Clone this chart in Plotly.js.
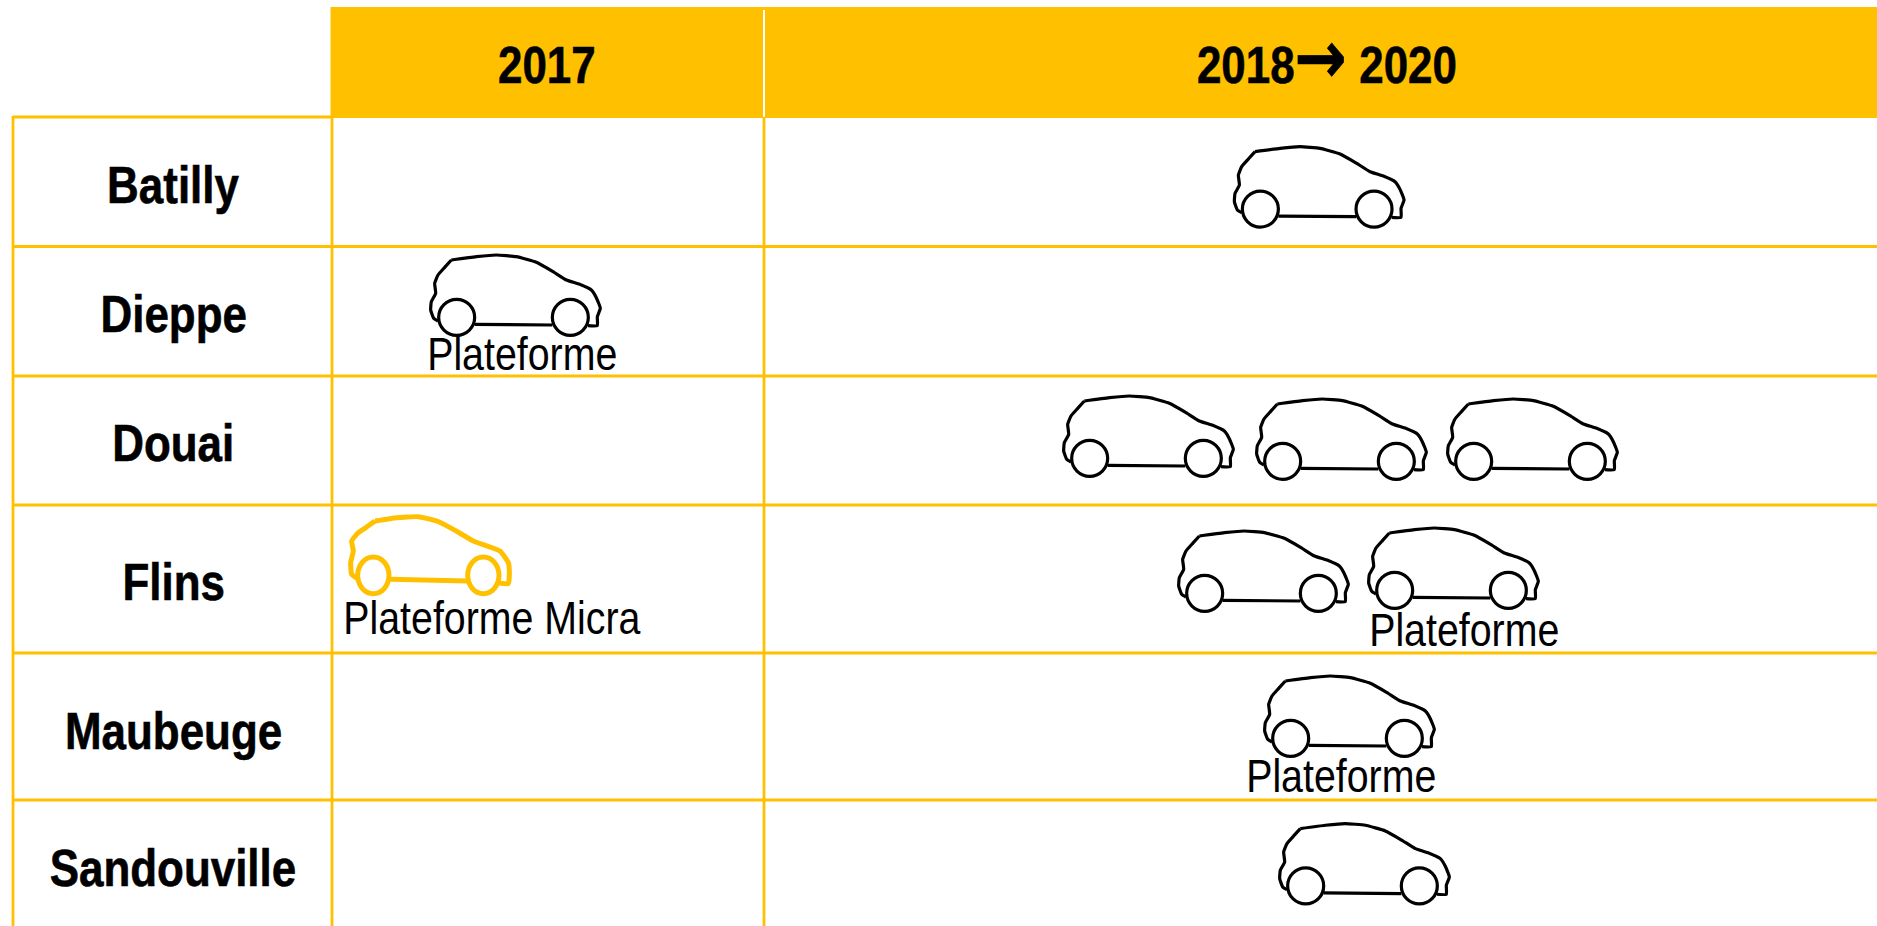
<!DOCTYPE html>
<html><head><meta charset="utf-8">
<script src="https://cdn.plot.ly/plotly-3.0.1.min.js"></script>
<style>html,body{margin:0;padding:0;background:#fff;overflow:hidden}</style>
</head><body><div id="chart" style="width:1877px;height:926px"></div>
<script>
// Table content
const periods = ['2017', '2018<span style="font-family:\'DejaVu Sans\';font-size:74px">\u2192</span> 2020'];
const sites = ['Batilly', 'Dieppe', 'Douai', 'Flins', 'Maubeuge', 'Sandouville'];
const carsIn2017 = [0, 1, 0, 1, 0, 0];
const carsIn2018to2020 = [1, 0, 3, 2, 1, 1];
const captions = [
  {text: 'Plateforme', x: 522, y: 354},
  {text: 'Plateforme Micra', x: 492, y: 618},
  {text: 'Plateforme', x: 1464, y: 630},
  {text: 'Plateforme', x: 1341, y: 776}
];

// Layout (page pixels)
const GOLD = '#FFC000';
const colEdges = [13, 332, 764, 1877];
const rowEdges = [117, 246.5, 376, 505, 653, 800, 926];
const labelY = [185, 314, 443, 582, 731, 868];
const headerY = [65, 57];
const headerTop = 7;
const blackCars = [[1234.7,146.7],[431,255],[1064,396],[1257,399],[1448,399],[1179,531],[1369,528],[1265,676],[1280,823.6]];
const yellowCar = [350,516];

// outline, in 1/3 px relative to the car's crop origin
const blackX = [165,240,300,360,420,470,510,550,585,600,612,603,603,575,null,235,468,null,125,112,103,105,118,115,125,145,165];
const blackY = [65,55,50,55,72,100,125,138,155,178,210,235,262,262,null,258,260,null,248,240,215,190,165,135,110,87,65];
const blackWheels = [[181,237,54,54],[522,237,54,54]];
const yellowX = [135,200,265,320,370,430,510,535,538,535,505,null,180,412,null,85,65,62,70,65,85,110,135];
const yellowY = [90,80,77,90,115,150,180,215,240,278,275,null,265,270,null,265,250,215,180,150,125,108,90];
const yellowWheels = [[130,253,47,55],[460,253,47,55]];

const traces = [], shapes = [], annotations = [];

function rect(x0,y0,x1,y1,fill){shapes.push({type:'rect',xref:'x',yref:'y',x0,y0,x1,y1,fillcolor:fill,line:{width:0},layer:'below'});}
function line(x0,y0,x1,y1,color,w){shapes.push({type:'line',xref:'x',yref:'y',x0,y0,x1,y1,line:{color,width:w},layer:'below'});}

rect(colEdges[1]-1.5, headerTop, colEdges[3], rowEdges[0]+1, GOLD);
line(colEdges[2], headerTop+3, colEdges[2], rowEdges[0], '#FFFFFF', 2);
line(colEdges[0], rowEdges[0], colEdges[1], rowEdges[0], GOLD, 2.8);
rowEdges.slice(1,-1).forEach(y => line(colEdges[0], y, colEdges[3], y, GOLD, 2.8));
line(colEdges[0], rowEdges[0]-1, colEdges[0], rowEdges[6], GOLD, 2.8);
line(colEdges[1], rowEdges[0], colEdges[1], rowEdges[6], GOLD, 2.8);
line(colEdges[2], rowEdges[0], colEdges[2], rowEdges[6], GOLD, 2.8);

function drawCar(ox, oy, xs, ys, wheels, color, width) {
  const dy = color===GOLD ? 0 : 50/3;
  traces.push({
    type:'scatter', mode:'lines', hoverinfo:'skip', showlegend:false, connectgaps:false,
    x: xs.map(v => v===null ? null : ox + v/3),
    y: ys.map(v => v===null ? null : oy + v/3 - dy),
    line:{color, width, shape:'spline', smoothing:0.4}
  });
  wheels.forEach(w => shapes.push({
    type:'circle', xref:'x', yref:'y', layer:'above',
    x0: ox+(w[0]-w[2])/3, x1: ox+(w[0]+w[2])/3,
    y0: oy+(w[1]-w[3])/3-dy, y1: oy+(w[1]+w[3])/3-dy,
    fillcolor:'#FFFFFF', line:{color, width}
  }));
}
blackCars.forEach(c => drawCar(c[0]-104/3, c[1], blackX, blackY, blackWheels, '#000000', 3.2));
drawCar(yellowCar[0]-20, yellowCar[1]-25, yellowX, yellowY, yellowWheels, GOLD, 5);

const family = '"Liberation Sans",Arial,sans-serif';
const boldFont = {family, size:52, weight:700, color:'#000'};
const regFont = {family, size:46, color:'#000'};
function txt(text,x,y,font){annotations.push({text,x,y,xref:'x',yref:'y',showarrow:false,xanchor:'center',yanchor:'middle',font});}

txt(periods[0], 547, headerY[0], boldFont);
txt(periods[1], 1327, headerY[1], boldFont);
sites.forEach((s,i) => txt(s, 173, labelY[i], boldFont));
captions.forEach(c => txt(c.text, c.x, c.y, regFont));

const NARROW_BOLD = 0.845, NARROW_REGULAR = 0.855;
const boldCount = periods.length + sites.length;
Plotly.newPlot('chart', traces, {
  width:1877, height:926, margin:{l:0,r:0,t:0,b:0,pad:0},
  paper_bgcolor:'#fff', plot_bgcolor:'#fff', showlegend:false,
  xaxis:{range:[0,1877],visible:false,fixedrange:true},
  yaxis:{range:[926,0],visible:false,fixedrange:true},
  shapes, annotations
}, {staticPlot:true, displayModeBar:false}).then(() => {
  // The reference uses a condensed face: narrow each label about its own centre.
  document.querySelectorAll('.annotation-text').forEach((t,i) => {
    const b = t.getBBox();
    const cx = b.x + b.width/2;
    const k = i < boldCount ? NARROW_BOLD : NARROW_REGULAR;
    t.setAttribute('transform', `translate(${cx},0) scale(${k},1) translate(${-cx},0)`);
    if (i < boldCount) { t.style.stroke = '#000'; t.style.strokeWidth = '0.6px'; }
  });
});
</script></body></html>
